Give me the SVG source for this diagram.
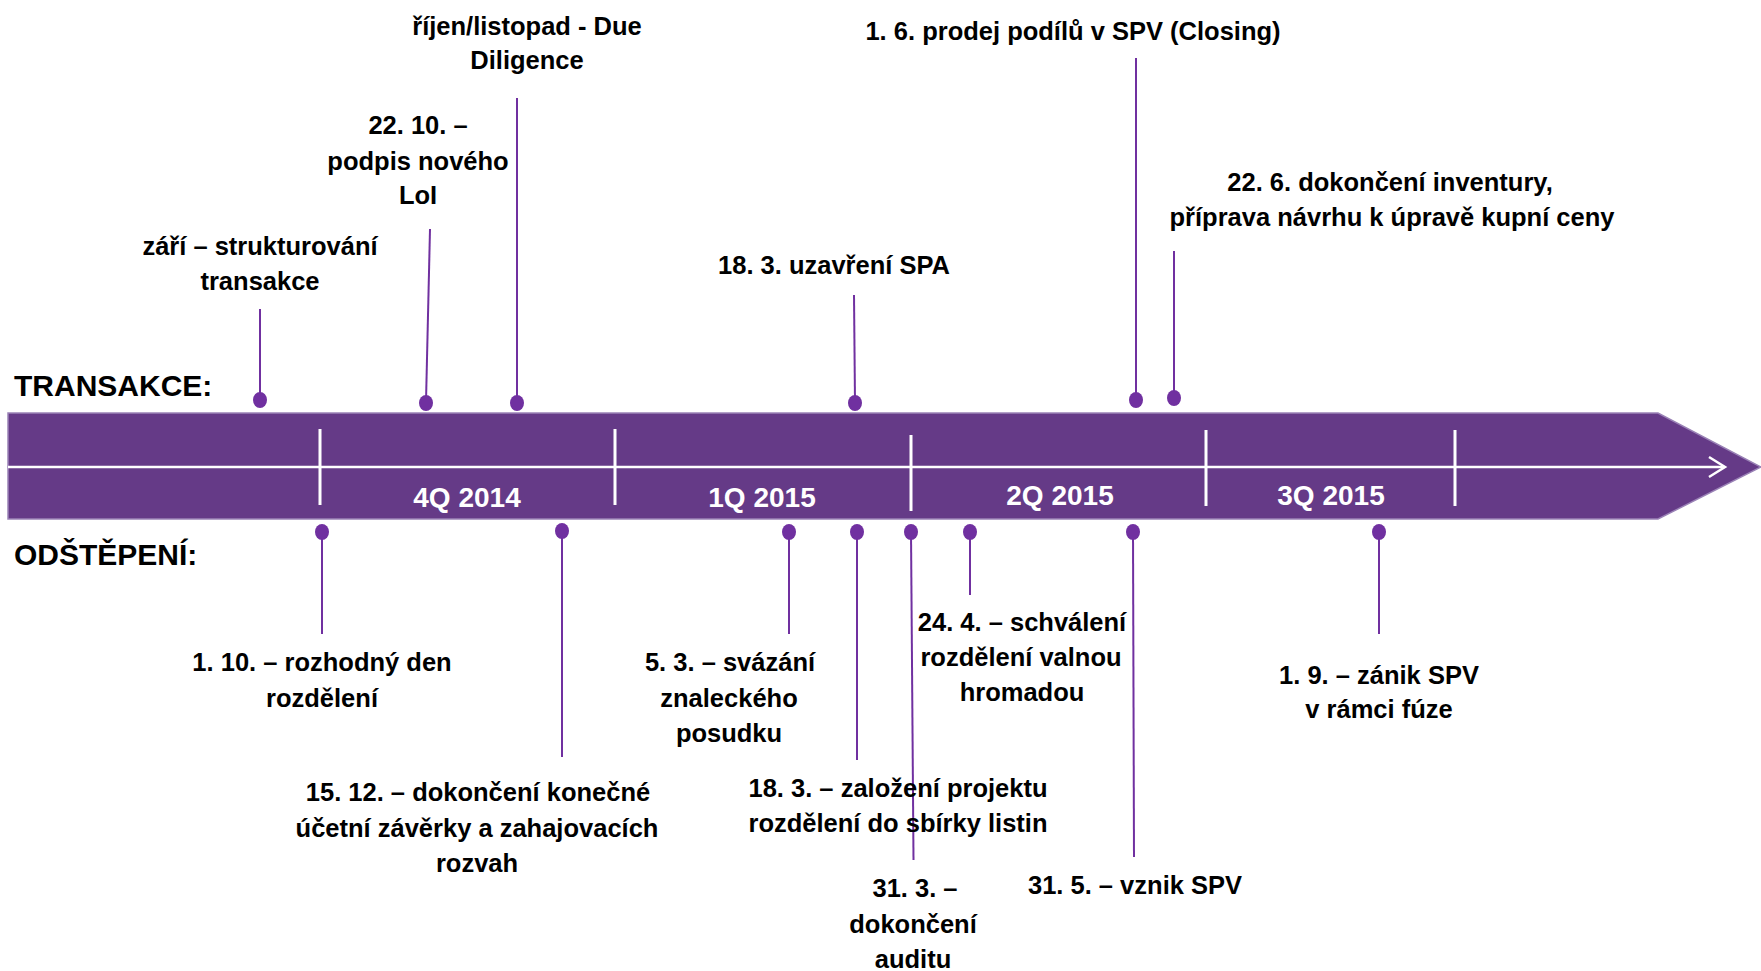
<svg xmlns="http://www.w3.org/2000/svg" width="1761" height="971" viewBox="0 0 1761 971">
<style>
text{font-family:"Liberation Sans",Arial,sans-serif;font-weight:bold;fill:#000}
.lbl{font-size:25.5px;text-anchor:middle}
.hdr{font-size:30px}
.q{font-size:28px;fill:#fff;text-anchor:middle}
.conn{stroke:#7030A0;stroke-width:2;fill:none}
.dot{fill:#7030A0}
.wl{stroke:#fff;fill:none}
</style>
<rect width="1761" height="971" fill="#fff"/>
<g id="timeline">
<path d="M8,413 H1658 L1761,467 L1658,519 H8 Z" fill="#653A87" stroke="#9A82B6" stroke-width="1.5"/>
<path class="wl" stroke-width="2.5" d="M8,467 H1724"/>
<polyline class="wl" stroke-width="2.5" points="1709,457 1725,467 1709,477"/>
<path class="wl" stroke-width="3" d="M320,429 V505 M615,429 V505 M911,435 V511 M1206,430 V506 M1455,430 V506"/>
<text class="q" x="467" y="507">4Q 2014</text>
<text class="q" x="762" y="507">1Q 2015</text>
<text class="q" x="1060" y="505">2Q 2015</text>
<text class="q" x="1331" y="505">3Q 2015</text>
</g>
<g id="headers">
<text class="hdr" x="14" y="396">TRANSAKCE:</text>
<text class="hdr" x="14" y="565">ODŠTĚPENÍ:</text>
</g>
<g id="connectors">
<line class="conn" x1="260" y1="309" x2="260" y2="400"/>
<line class="conn" x1="430" y1="229" x2="426" y2="402"/>
<line class="conn" x1="517" y1="98" x2="517" y2="403"/>
<line class="conn" x1="854" y1="295" x2="855" y2="403"/>
<line class="conn" x1="1136" y1="58" x2="1136" y2="400"/>
<line class="conn" x1="1174" y1="251" x2="1174" y2="398"/>
<line class="conn" x1="322" y1="532" x2="322" y2="634"/>
<line class="conn" x1="562" y1="531" x2="562" y2="757"/>
<line class="conn" x1="789" y1="532" x2="789" y2="634"/>
<line class="conn" x1="857" y1="532" x2="857" y2="760"/>
<line class="conn" x1="911" y1="532" x2="913.5" y2="860"/>
<line class="conn" x1="970" y1="532" x2="970" y2="595"/>
<line class="conn" x1="1133" y1="532" x2="1134" y2="857"/>
<line class="conn" x1="1379" y1="532" x2="1379" y2="634"/>
<ellipse class="dot" cx="260" cy="400" rx="7" ry="8"/>
<ellipse class="dot" cx="426" cy="403" rx="7" ry="8"/>
<ellipse class="dot" cx="517" cy="403" rx="7" ry="8"/>
<ellipse class="dot" cx="855" cy="403" rx="7" ry="8"/>
<ellipse class="dot" cx="1136" cy="400" rx="7" ry="8"/>
<ellipse class="dot" cx="1174" cy="398" rx="7" ry="8"/>
<ellipse class="dot" cx="322" cy="532" rx="7" ry="8"/>
<ellipse class="dot" cx="562" cy="531" rx="7" ry="8"/>
<ellipse class="dot" cx="789" cy="532" rx="7" ry="8"/>
<ellipse class="dot" cx="857" cy="532" rx="7" ry="8"/>
<ellipse class="dot" cx="911" cy="532" rx="7" ry="8"/>
<ellipse class="dot" cx="970" cy="532" rx="7" ry="8"/>
<ellipse class="dot" cx="1133" cy="532" rx="7" ry="8"/>
<ellipse class="dot" cx="1379" cy="532" rx="7" ry="8"/>
</g>
<g id="ev-zari"><text class="lbl" x="260" y="255">září – strukturování</text><text class="lbl" x="260" y="290">transakce</text></g>
<g id="ev-loi"><text class="lbl" x="418" y="134">22. 10. –</text><text class="lbl" x="418" y="170">podpis nového</text><text class="lbl" x="418" y="204">LoI</text></g>
<g id="ev-dd"><text class="lbl" x="527" y="35">říjen/listopad - Due</text><text class="lbl" x="527" y="69">Diligence</text></g>
<g id="ev-spa"><text class="lbl" x="834" y="274">18. 3. uzavření SPA</text></g>
<g id="ev-closing"><text class="lbl" x="1073" y="40">1. 6. prodej podílů v SPV (Closing)</text></g>
<g id="ev-inventura"><text class="lbl" x="1390" y="191">22. 6. dokončení inventury,</text><text class="lbl" x="1392" y="226">příprava návrhu k úpravě kupní ceny</text></g>
<g id="ev-rozhodny"><text class="lbl" x="322" y="671">1. 10. – rozhodný den</text><text class="lbl" x="322" y="707">rozdělení</text></g>
<g id="ev-zaverka"><text class="lbl" x="478" y="801">15. 12. – dokončení konečné</text><text class="lbl" x="477" y="837">účetní závěrky a zahajovacích</text><text class="lbl" x="477" y="872">rozvah</text></g>
<g id="ev-posudek"><text class="lbl" x="730" y="671">5. 3. – svázání</text><text class="lbl" x="729" y="707">znaleckého</text><text class="lbl" x="729" y="742">posudku</text></g>
<g id="ev-projekt"><text class="lbl" x="898" y="797">18. 3. – založení projektu</text><text class="lbl" x="898" y="832">rozdělení do sbírky listin</text></g>
<g id="ev-audit"><text class="lbl" x="915" y="897">31. 3. –</text><text class="lbl" x="913" y="933">dokončení</text><text class="lbl" x="913" y="968">auditu</text></g>
<g id="ev-valna"><text class="lbl" x="1022" y="631">24. 4. – schválení</text><text class="lbl" x="1021" y="666">rozdělení valnou</text><text class="lbl" x="1022" y="701">hromadou</text></g>
<g id="ev-vznik"><text class="lbl" x="1135" y="894">31. 5. – vznik SPV</text></g>
<g id="ev-zanik"><text class="lbl" x="1379" y="684">1. 9. – zánik SPV</text><text class="lbl" x="1379" y="718">v rámci fúze</text></g>
</svg>
